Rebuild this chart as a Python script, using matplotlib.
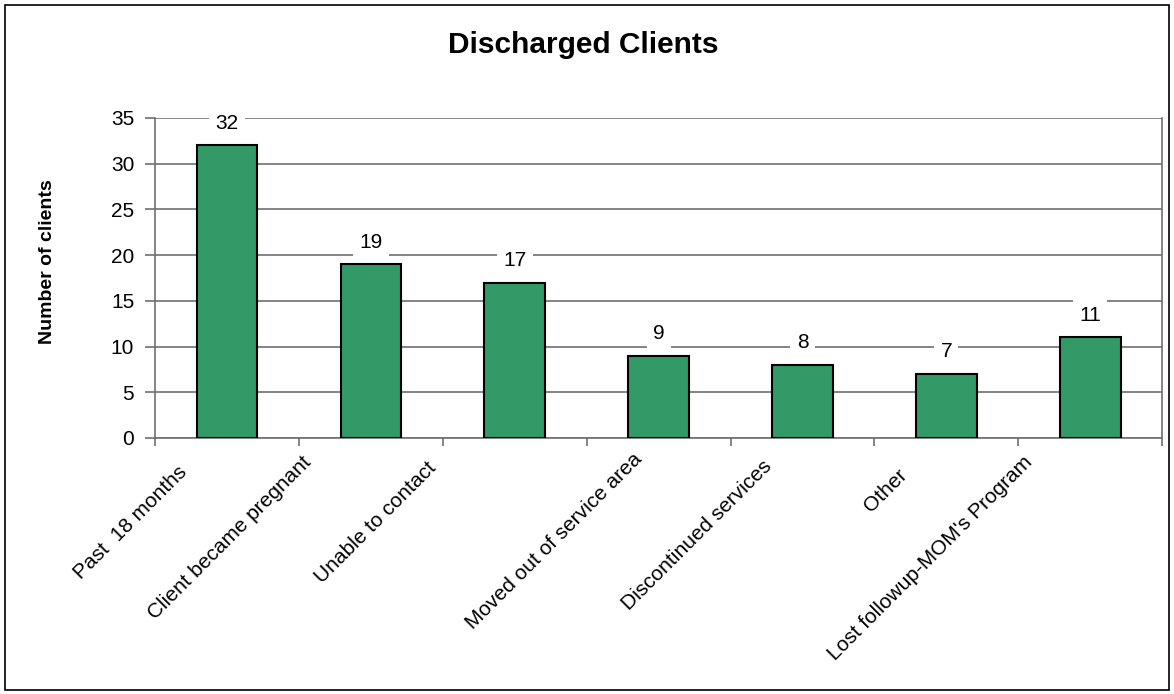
import matplotlib.pyplot as plt
import numpy as np
from matplotlib.patches import Rectangle

categories = ['Past  18 months', 'Client became pregnant', 'Unable to contact',
              'Moved out of service area', 'Discontinued services', 'Other',
              "Lost followup-MOM's Program"]
counts = [32, 19, 17, 9, 8, 7, 11]
y_ticks = [0, 5, 10, 15, 20, 25, 30, 35]

# where each rotated label ends, relative to its category centre (pixels)
label_nudge = [(-50, -25), (-69, -15), (-88, -20), (-26, -12),
               (-40, -19), (-49, -27), (-68, -15)]

plt.rcParams['font.family'] = ['Liberation Sans', 'DejaVu Sans']

fig = plt.figure(figsize=(11.74, 6.94), dpi=100)
fig.patches.append(Rectangle((0.004, 0.006), 0.992, 0.987, transform=fig.transFigure,
                             fill=False, edgecolor='black', linewidth=1.2))
ax = fig.add_axes([0.132, 0.369, 0.858, 0.461])

x = np.arange(len(categories))
ax.bar(x, counts, width=0.42, color='#339966', edgecolor='black', linewidth=1.5, zorder=3)

for xi, v in zip(x, counts):
    ax.annotate(str(v), (xi, v), xytext=(0, 16), textcoords='offset points',
                ha='center', va='center', fontsize=15,
                bbox=dict(boxstyle='square,pad=0.3', facecolor='white', edgecolor='none'),
                zorder=4)

ax.set_xlim(-0.5, len(categories) - 0.5)
ax.set_ylim(0, 35)
ax.set_yticks(y_ticks)
ax.yaxis.grid(True, color='#707070', linewidth=1.2, zorder=0)
ax.tick_params(axis='y', labelsize=15, length=7, width=1.2, color='#707070', pad=8)

ax.set_xticks(np.arange(len(categories) + 1) - 0.5)
ax.set_xticklabels([])
ax.tick_params(axis='x', length=6, width=1.2, color='#707070')
for xi, lab, (dx, dy) in zip(x, categories, label_nudge):
    ax.annotate(lab, (xi, 0), xytext=(dx * 0.72, dy * 0.72), textcoords='offset points',
                xycoords=('data', 'axes fraction'), ha='right', va='top',
                rotation=45, rotation_mode='anchor', fontsize=15)

ax.spines['top'].set_visible(False)
for side in ['left', 'bottom', 'right']:
    ax.spines[side].set_color('#707070')
    ax.spines[side].set_linewidth(1.2)

ax.set_ylabel('Number of clients', fontsize=14, fontweight='bold')
ax.yaxis.set_label_coords(-0.098, 0.55)
fig.text(0.497, 0.935, 'Discharged Clients', ha='center', va='center',
         fontsize=21.5, fontweight='bold')

fig.savefig('out.png', dpi=100)
